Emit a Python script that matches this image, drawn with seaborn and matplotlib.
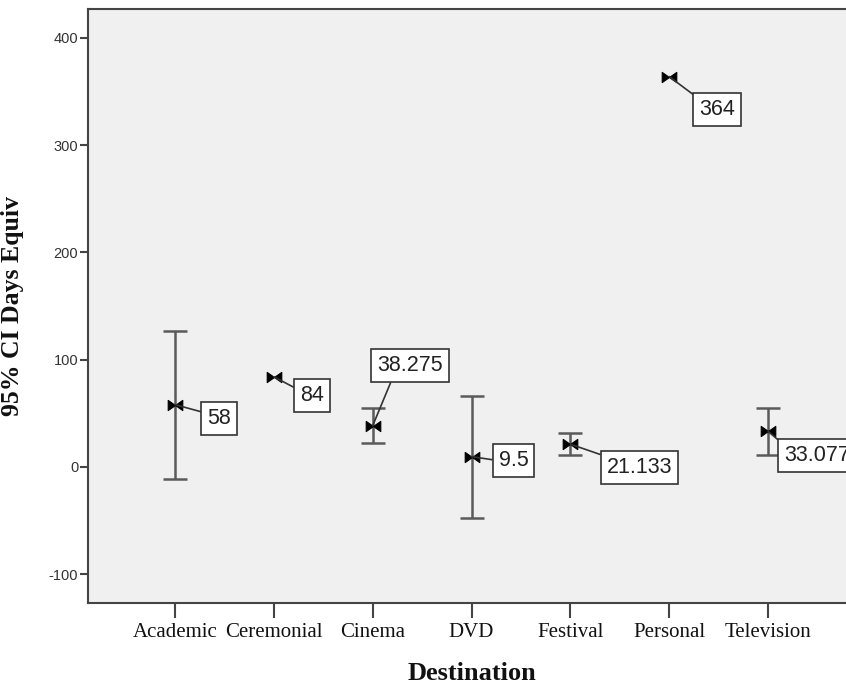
import numpy as np
import pandas as pd
import matplotlib
matplotlib.use("Agg")
import matplotlib.pyplot as plt
from matplotlib.path import Path
import seaborn as sns

# ---- data ----
destinations = ["Academic", "Ceremonial", "Cinema", "DVD", "Festival", "Personal", "Television"]
means = [58.0, 84.0, 38.275, 9.5, 21.133, 364.0, 33.077]
ci_low = [-11.0, np.nan, 22.0, -47.5, 11.0, np.nan, 11.5]
ci_high = [127.0, np.nan, 54.5, 66.5, 31.3, np.nan, 54.7]
value_labels = ["58", "84", "38.275", "9.5", "21.133", "364", "33.077"]
y_ticks = [-100, 0, 100, 200, 300, 400]

df = pd.DataFrame({"Destination": destinations, "mean": means,
                   "lo": ci_low, "hi": ci_high, "label": value_labels})

# ---- layout of the value labels (offsets in pixels, anchor of leader line) ----
label_offsets = [(44, -14), (38, -19), (37, 60), (42, -4), (69, -23), (48, -33), (49, -24)]
label_relpos = [(0, 0.75), (0, 0.75), (0.25, 0), (0, 0.5), (0, 1), (0, 1), (0, 1)]

sns.set_theme(style="white")
plt.rcParams["font.family"] = ["Liberation Sans", "DejaVu Sans"]

fig = plt.figure(figsize=(8.46, 6.83), dpi=100)
W, H = 846, 683
left, right, top, bottom = 88, 855, 9, 603
ax = fig.add_axes([left / W, (H - bottom) / H, (right - left) / W, (bottom - top) / H])
ax.set_facecolor("#F0F0F0")

# error bars
ci = df.dropna(subset=["lo", "hi"])
xpos = [destinations.index(d) for d in ci["Destination"]]
ax.errorbar(xpos, ci["mean"], yerr=[ci["mean"] - ci["lo"], ci["hi"] - ci["mean"]],
            fmt="none", ecolor="#5a5a5a", elinewidth=1.8, capsize=8.6, capthick=1.8, zorder=2)

# bowtie marker
bowtie = Path([(-1, -0.7), (-1, 0.7), (0, 0), (1, 0.7), (1, -0.7), (0, 0), (-1, -0.7)],
              [Path.MOVETO, Path.LINETO, Path.LINETO, Path.LINETO, Path.LINETO, Path.LINETO, Path.CLOSEPOLY])
sns.scatterplot(data=df, x="Destination", y="mean", marker=bowtie, s=110,
                color="black", edgecolor="black", linewidth=0.8, ax=ax, zorder=4)

# value labels
for i, row in df.iterrows():
    ax.annotate(row["label"], xy=(i, row["mean"]), xytext=label_offsets[i],
                textcoords="offset pixels", ha="center", va="center",
                fontsize=15.5, color="#222222", family="Liberation Sans",
                bbox=dict(boxstyle="square,pad=0.28", fc="white", ec="#333333", lw=1.2),
                arrowprops=dict(arrowstyle="-", color="#333333", lw=1.2,
                                shrinkA=0, shrinkB=0, relpos=label_relpos[i]),
                zorder=5, annotation_clip=False)

ax.set_xlim(-0.88, len(destinations) - 1 + 0.88)
ax.set_ylim(-127, 427)
ax.set_yticks(y_ticks)
ax.set_yticklabels([str(t) for t in y_ticks], fontsize=10.5, color="#333333", family="Liberation Sans")
ax.set_xticks(range(len(destinations)))
ax.set_xticklabels(destinations, fontsize=15, family="Liberation Serif", color="#111111")

ax.tick_params(axis="y", direction="out", length=6, width=1.5, color="#444444", pad=1, left=True)
ax.tick_params(axis="x", direction="out", length=10.5, width=1.5, color="#444444", pad=4, bottom=True)

for s in ["left", "bottom", "top", "right"]:
    ax.spines[s].set_visible(True)
    ax.spines[s].set_color("#444444")
    ax.spines[s].set_linewidth(1.5)

ax.set_xlabel("Destination", fontsize=19, fontweight="bold", family="Liberation Serif",
              color="#111111", labelpad=14)
ax.set_ylabel("95% CI Days Equiv", fontsize=18.5, fontweight="bold", family="Liberation Serif",
              color="#111111", labelpad=18)

fig.savefig("out.png", dpi=100)
